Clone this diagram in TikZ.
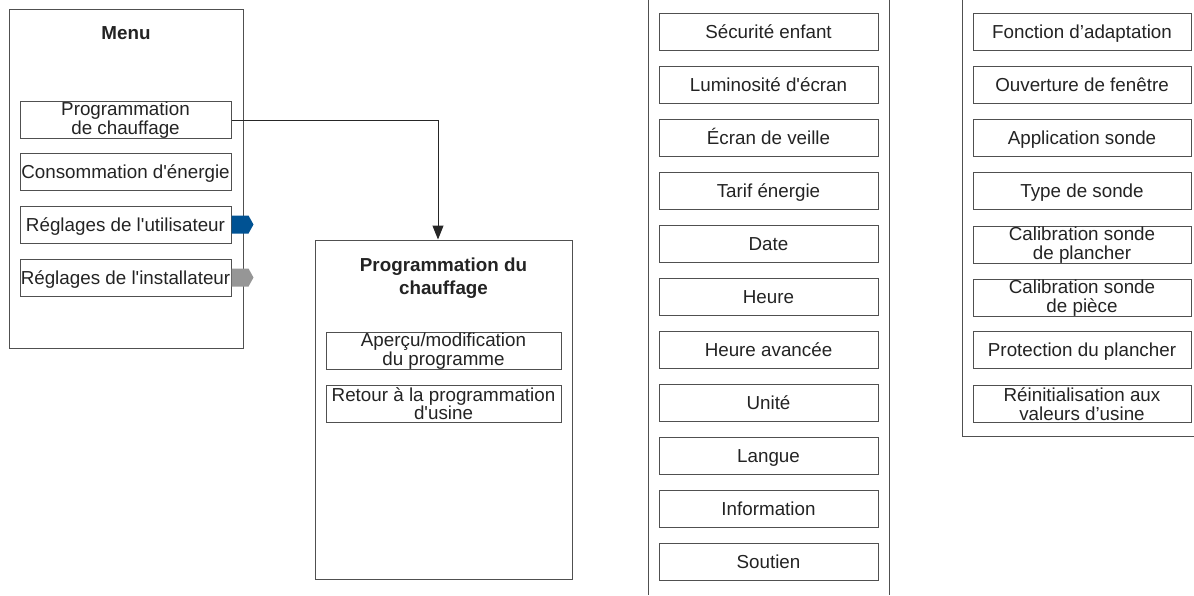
\documentclass[tikz,border=0pt]{standalone}
\usepackage{fontspec}
\setmainfont{Liberation Sans}
\usepackage{tikz}
\usetikzlibrary{arrows.meta}
\definecolor{MenuLine}{RGB}{80, 80, 80}
\definecolor{MenuText}{RGB}{35, 35, 35}
\definecolor{MenuBlue}{RGB}{0, 82, 147}
\definecolor{MenuGrey}{RGB}{150, 150, 150}
\tikzset{
  itembox/.style={draw=MenuLine, line width=1pt, text=MenuText, inner sep=0pt,
    minimum height=37pt, align=center, font=\fontsize{18.8}{18.5}\selectfont},
  oneline/.style={itembox, text height=17.5pt, text depth=3.9pt},
  panelbox/.style={draw=MenuLine, line width=1pt, inner sep=0pt},
  paneltitle/.style={text=MenuText, align=center, font=\bfseries\fontsize{18.8}{23}\selectfont},
  panelline/.style={draw=MenuLine, line width=1pt}
}

\begin{document}
\begin{tikzpicture}[x=1pt, y=-1pt]
    \useasboundingbox (0,0) rectangle (1194,595);

    % Menu
    \node[panelbox, minimum width=234pt, minimum height=339pt] (menu) at (126,178.5) {};
    \node[paneltitle] (menutitle) at (126,33) {Menu};
    \node[itembox, minimum width=211pt] (prog) at (125.5,120) {Programmation\\de chauffage};
    \node[oneline, minimum width=211pt] (conso) at (125.5,171.5) {Consommation d\textquotesingle énergie};
    \node[oneline, minimum width=211pt] (user) at (125.5,224.5) {Réglages de l\textquotesingle utilisateur};
    \node[oneline, minimum width=211pt] (inst) at (125.5,277.5) {Réglages de l\textquotesingle installateur};
    \fill[MenuBlue] (user.east) ++(0,-9) -- ++(17,0) -- ++(5,9) -- ++(-5,9) -- ++(-17,0) -- cycle;
    \fill[MenuGrey] (inst.east) ++(0,-9) -- ++(17,0) -- ++(5,9) -- ++(-5,9) -- ++(-17,0) -- cycle;

    % Programmation du chauffage
    \node[panelbox, minimum width=257pt, minimum height=339pt] (chauf) at (443.5,409.5) {};
    \node[paneltitle] (chauftitle) at (443.5,278) {Programmation du\\chauffage};
    \node[itembox, minimum width=235pt] (apercu) at (443.5,351) {Aperçu/modification\\du programme};
    \node[itembox, minimum width=235pt] (retour) at (443.5,403.5) {Retour à la programmation\\d\textquotesingle usine};
    \draw[black!85, line width=1pt, -{Triangle[width=11pt, length=14pt]}]
        (prog.east) -| ([xshift=-5.5pt]chauf.north);

    % Reglages de l'utilisateur
    \draw[panelline] (648,0) -- (648,595);
    \draw[panelline] (889,0) -- (889,595);
    \node[oneline, minimum width=219pt] (secu) at (768.5,31.5) {Sécurité enfant};
    \node[oneline, minimum width=219pt] (lumi) at (768.5,84.5) {Luminosité d\textquotesingle écran};
    \node[oneline, minimum width=219pt] (veille) at (768.5,137.5) {Écran de veille};
    \node[oneline, minimum width=219pt] (tarif) at (768.5,190.5) {Tarif énergie};
    \node[oneline, minimum width=219pt] (date) at (768.5,243.5) {Date};
    \node[oneline, minimum width=219pt] (heure) at (768.5,296.5) {Heure};
    \node[oneline, minimum width=219pt] (avance) at (768.5,349.5) {Heure avancée};
    \node[oneline, minimum width=219pt] (unite) at (768.5,402.5) {Unité};
    \node[oneline, minimum width=219pt] (langue) at (768.5,455.5) {Langue};
    \node[oneline, minimum width=219pt] (info) at (768.5,508.5) {Information};
    \node[oneline, minimum width=219pt] (soutien) at (768.5,561.5) {Soutien};

    % Reglages de l'installateur
    \draw[panelline] (962,0) -- (962,436) -- (1194,436);
    \node[oneline, minimum width=218pt] (adapt) at (1082,31.5) {Fonction d’adaptation};
    \node[oneline, minimum width=218pt] (fenetre) at (1082,84.5) {Ouverture de fenêtre};
    \node[oneline, minimum width=218pt] (appli) at (1082,137.5) {Application sonde};
    \node[oneline, minimum width=218pt] (type) at (1082,190.5) {Type de sonde};
    \node[itembox, minimum width=218pt] (calplan) at (1082,245) {Calibration sonde\\de plancher};
    \node[itembox, minimum width=218pt] (calpiece) at (1082,298) {Calibration sonde\\de pièce};
    \node[oneline, minimum width=218pt] (protect) at (1082,349.5) {Protection du plancher};
    \node[itembox, minimum width=218pt] (reinit) at (1082,404) {Réinitialisation aux\\valeurs d’usine};
\end{tikzpicture}
\end{document}
